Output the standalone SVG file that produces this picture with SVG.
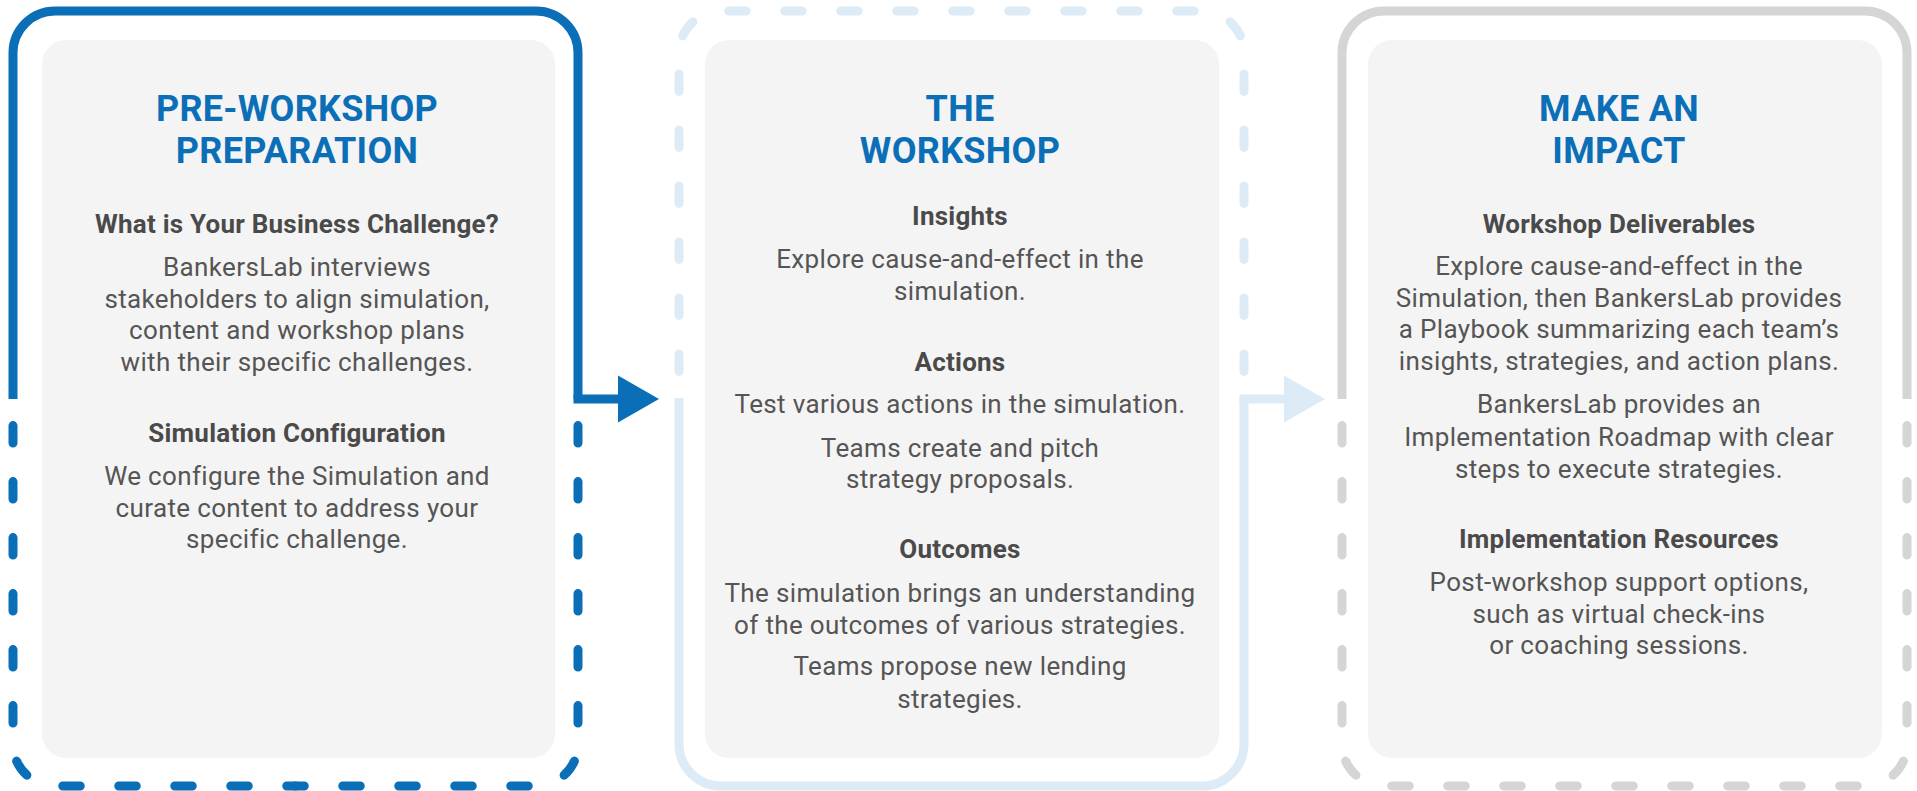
<svg xmlns="http://www.w3.org/2000/svg" width="1917" height="791" viewBox="0 0 1917 791">
<style>
.bg{fill:#ffffff}
.inner{fill:#f4f4f4}
.b-blue{fill:none;stroke:#0b6fb8;stroke-width:9}
.b-light{fill:none;stroke:#dcebf5;stroke-width:9}
.b-gray{fill:none;stroke:#d5d5d5;stroke-width:9}
.dash{stroke-dasharray:17.5 38.5;stroke-dashoffset:8.75;stroke-linecap:round}
.title{font-family:Roboto,"Liberation Sans",sans-serif;font-weight:700;font-size:36px;letter-spacing:0.3px;fill:#0b6fb8;text-anchor:middle}
.sub{font-family:Roboto,"Liberation Sans",sans-serif;font-weight:700;font-size:26px;letter-spacing:0.23px;fill:#4a4a4a;text-anchor:middle}
.body{font-family:Roboto,"Liberation Sans",sans-serif;font-weight:400;font-size:26px;letter-spacing:0.35px;fill:#555555;text-anchor:middle}
</style>
<rect class="bg" x="0" y="0" width="1917" height="791"/>

<g id="pre-workshop">
  <rect class="inner" x="42" y="40" width="513" height="718" rx="24"/>
  <path class="b-blue" d="M13 399 L13 53 A42 42 0 0 1 55 11 L536 11 A42 42 0 0 1 578 53 L578 399"/>
  <path class="b-blue dash" d="M295.5 786 L55 786 A42 42 0 0 1 13 744 L13 399"/>
  <path class="b-blue dash" d="M295.5 786 L536 786 A42 42 0 0 0 578 744 L578 399"/>
  <text class="title" x="297" y="120.7">PRE-WORKSHOP</text>
  <text class="title" x="297" y="162.7">PREPARATION</text>
  <text class="sub" x="297" y="232.7">What is Your Business Challenge?</text>
  <text class="body" x="297" y="276">BankersLab interviews</text>
  <text class="body" x="297" y="307.7">stakeholders to align simulation,</text>
  <text class="body" x="297" y="339.3">content and workshop plans</text>
  <text class="body" x="297" y="371">with their specific challenges.</text>
  <text class="sub" x="297" y="441.7">Simulation Configuration</text>
  <text class="body" x="297" y="485">We configure the Simulation and</text>
  <text class="body" x="297" y="516.7">curate content to address your</text>
  <text class="body" x="297" y="548.3">specific challenge.</text>
</g>

<g id="the-workshop">
  <rect class="inner" x="705" y="40" width="514" height="718" rx="24"/>
  <path class="b-light" d="M679 398 L679 744 A42 42 0 0 0 721 786 L1202 786 A42 42 0 0 0 1244 744 L1244 398"/>
  <path class="b-light dash" d="M961.5 11 L721 11 A42 42 0 0 0 679 53 L679 398"/>
  <path class="b-light dash" d="M961.5 11 L1202 11 A42 42 0 0 1 1244 53 L1244 398"/>
  <text class="title" x="960" y="120.7">THE</text>
  <text class="title" x="960" y="162.7">WORKSHOP</text>
  <text class="sub" x="960" y="225">Insights</text>
  <text class="body" x="960" y="268.3">Explore cause-and-effect in the</text>
  <text class="body" x="960" y="300">simulation.</text>
  <text class="sub" x="960" y="370.7">Actions</text>
  <text class="body" x="960" y="413.3">Test various actions in the simulation.</text>
  <text class="body" x="960" y="456.7">Teams create and pitch</text>
  <text class="body" x="960" y="488.3">strategy proposals.</text>
  <text class="sub" x="960" y="558.3">Outcomes</text>
  <text class="body" x="960" y="601.7">The simulation brings an understanding</text>
  <text class="body" x="960" y="633.7">of the outcomes of various strategies.</text>
  <text class="body" x="960" y="675">Teams propose new lending</text>
  <text class="body" x="960" y="707.5">strategies.</text>
</g>

<g id="make-an-impact">
  <rect class="inner" x="1368" y="40" width="514" height="718" rx="24"/>
  <path class="b-gray" d="M1342 399 L1342 53 A42 42 0 0 1 1384 11 L1865 11 A42 42 0 0 1 1907 53 L1907 399"/>
  <path class="b-gray dash" d="M1624.5 786 L1384 786 A42 42 0 0 1 1342 744 L1342 399"/>
  <path class="b-gray dash" d="M1624.5 786 L1865 786 A42 42 0 0 0 1907 744 L1907 399"/>
  <text class="title" x="1619" y="120.7">MAKE AN</text>
  <text class="title" x="1619" y="162.7">IMPACT</text>
  <text class="sub" x="1619" y="232.7">Workshop Deliverables</text>
  <text class="body" x="1619" y="275">Explore cause-and-effect in the</text>
  <text class="body" x="1619" y="306.7">Simulation, then BankersLab provides</text>
  <text class="body" x="1619" y="338.3">a Playbook summarizing each team’s</text>
  <text class="body" x="1619" y="370">insights, strategies, and action plans.</text>
  <text class="body" x="1619" y="413.3">BankersLab provides an</text>
  <text class="body" x="1619" y="445.7">Implementation Roadmap with clear</text>
  <text class="body" x="1619" y="478">steps to execute strategies.</text>
  <text class="sub" x="1619" y="548.3">Implementation Resources</text>
  <text class="body" x="1619" y="590.7">Post-workshop support options,</text>
  <text class="body" x="1619" y="622.7">such as virtual check-ins</text>
  <text class="body" x="1619" y="654.3">or coaching sessions.</text>
</g>

<g id="connectors">
  <path d="M573.5 399 L620 399" fill="none" stroke="#0b6fb8" stroke-width="9"/>
  <polygon points="618,375.5 659,399 618,422.5" fill="#0b6fb8"/>
  <path d="M1239.5 399 L1286 399" fill="none" stroke="#dcebf5" stroke-width="9"/>
  <polygon points="1284,375.5 1325,399 1284,422.5" fill="#dcebf5"/>
</g>
</svg>
